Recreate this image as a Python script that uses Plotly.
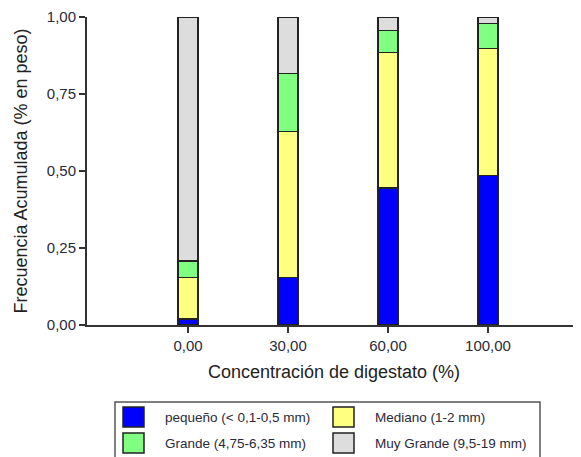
import plotly.graph_objects as go

categories = ["0,00", "30,00", "60,00", "100,00"]
series_names = ["pequeño (< 0,1-0,5 mm)", "Mediano (1-2 mm)",
                "Grande (4,75-6,35 mm)", "Muy Grande (9,5-19 mm)"]
pequeno = [0.020, 0.155, 0.445, 0.485]
mediano = [0.135, 0.473, 0.439, 0.412]
grande = [0.053, 0.189, 0.072, 0.082]
muy_grande = [0.792, 0.183, 0.044, 0.021]
y_ticks = [0, 0.25, 0.5, 0.75, 1.0]
colors = ["#0000FF", "#FFFF80", "#80FF80", "#DDDDDD"]

# page body has an 8px offset; target positions below are in screen pixels
OFF = 8
W, H = 581 - OFF, 457 - OFF
L, R, T, B = 87 - OFF, 0, 17 - OFF, 132
PW, PH = W - L - R, H - T - B

fig = go.Figure()
for name, vals, col in zip(series_names, [pequeno, mediano, grande, muy_grande], colors):
    fig.add_trace(go.Bar(
        x=list(range(len(categories))), y=vals, name=name,
        marker=dict(color=col, line=dict(color="#222222", width=1.5)),
        width=0.2, showlegend=False))

font_col = "#2a2a3a"
fig.update_layout(
    width=W, height=H, barmode="stack",
    margin=dict(l=L, r=R, t=T, b=B, pad=0),
    plot_bgcolor="white", paper_bgcolor="white",
    separators=",.",
    font=dict(family="Liberation Sans, Arial, sans-serif", color=font_col, size=15),
    xaxis=dict(range=[-1.01, 3.93], tickmode="array",
               tickvals=list(range(len(categories))), ticktext=categories,
               showline=True, linecolor="#333333", linewidth=2,
               ticks="outside", ticklen=6, tickwidth=1.5, tickcolor="#333333",
               showgrid=False, zeroline=False,
               title=dict(text="Concentración de digestato (%)", font=dict(size=18, color="#222222"), standoff=12)),
    yaxis=dict(range=[0, 1.0], tickmode="array", tickvals=y_ticks,
               tickformat=".2f",
               showline=True, linecolor="#333333", linewidth=2,
               ticks="outside", ticklen=6, tickwidth=1.5, tickcolor="#333333",
               showgrid=False, zeroline=False,
               title=dict(text="Frecuencia Acumulada (% en peso)", font=dict(size=18, color="#222222"), standoff=14)),
)

def px(x):
    return (x - OFF - L) / PW

def py(y):
    return (T + PH - (y - OFF)) / PH

# legend box (bottom edge runs past the page edge, as in the reference)
fig.add_shape(type="rect", xref="paper", yref="paper",
              x0=px(115), x1=px(540), y0=py(402), y1=py(462),
              line=dict(color="#555555", width=1.5), fillcolor="white")
pos = [(123, 407), (333, 407), (123, 433), (333, 433)]
for (sx, sy), name, col in zip(pos, series_names, colors):
    fig.add_shape(type="rect", xref="paper", yref="paper",
                  x0=px(sx), x1=px(sx + 21), y0=py(sy), y1=py(sy + 20),
                  line=dict(color="#222222", width=1.5), fillcolor=col)
    fig.add_annotation(xref="paper", yref="paper", x=px(sx + 40), y=py(sy + 10),
                       text=name, showarrow=False, xanchor="left", yanchor="middle",
                       font=dict(size=13.5, color=font_col))

fig.write_html("out.html")
